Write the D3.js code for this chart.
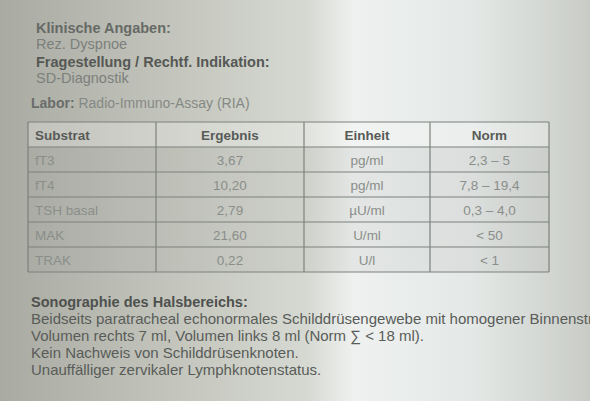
<!DOCTYPE html>
<html><head><meta charset="utf-8">
<script src="https://cdn.jsdelivr.net/npm/d3@7"></script>
<style>body{margin:0;background:#bbbcb4}</style>
</head><body><svg id="doc" width="590" height="401"></svg>
<script>
const headers = ["Substrat", "Ergebnis", "Einheit", "Norm"]
const substrates = ["fT3", "fT4", "TSH basal", "MAK", "TRAK"]
const results = ["3,67", "10,20", "2,79", "21,60", "0,22"]
const units = ["pg/ml", "pg/ml", "µU/ml", "U/ml", "U/l"]
const norms = ["2,3 – 5", "7,8 – 19,4", "0,3 – 4,0", "< 50", "< 1"]
const colEdges = [28, 156, 304, 430, 549]
const sonoLines = [
  "Beidseits paratracheal echonormales Schilddrüsengewebe mit homogener Binnenstruktur.",
  "Volumen rechts 7 ml, Volumen links 8 ml (Norm ∑ < 18 ml).",
  "Kein Nachweis von Schilddrüsenknoten.",
  "Unauffälliger zervikaler Lymphknotenstatus."
]

let svg = d3.select("#doc")
let grad = svg.append("defs").append("linearGradient").attr("id", "paper")
;[[0, "#a9aaa2"], [0.3, "#c4c6bd"], [0.52, "#d6d9d2"], [0.6, "#eef1ef"], [0.8, "#e4e8e6"], [1, "#c9ccc6"]]
  .forEach(s => grad.append("stop").attr("offset", s[0]).attr("stop-color", s[1]))
svg.append("rect").attr("width", 590).attr("height", 401).attr("fill", "url(#paper)")

function txt(x, y, s, bold, col, anchor, size) {
  svg.append("text").attr("x", x).attr("y", y).text(s)
    .attr("font-family", "Liberation Sans, Arial, sans-serif").attr("font-size", size || 13)
    .attr("font-weight", bold ? "bold" : "normal").attr("fill", col)
    .attr("text-anchor", anchor || "start")
}

txt(36, 33, "Klinische Angaben:", true, "#666a66", "start", 14.5)
txt(36, 49, "Rez. Dyspnoe", false, "#7c807c", "start", 14.5)
txt(36, 67, "Fragestellung / Rechtf. Indikation:", true, "#555855", "start", 14.5)
txt(36, 83, "SD-Diagnostik", false, "#7c807c", "start", 14.5)
svg.append("text").attr("x", 31).attr("y", 108)
  .attr("font-family", "Liberation Sans, Arial, sans-serif").attr("font-size", 14)
  .call(t => {
    t.append("tspan").attr("font-weight", "bold").attr("fill", "#6a6d6a").text("Labor: ")
    t.append("tspan").attr("fill", "#858985").text("Radio-Immuno-Assay (RIA)")
  })

// table
let y = d3.scaleBand().domain(d3.range(6)).range([122, 272])
let rows = [headers].concat(substrates.map((s, i) => [s, results[i], units[i], norms[i]]))
svg.selectAll("rect.row").data(rows).enter().append("rect")
  .attr("x", colEdges[0]).attr("y", (d, i) => y(i))
  .attr("width", colEdges[4] - colEdges[0]).attr("height", y.bandwidth())
  .attr("fill", (d, i) => i == 0 ? "#ffffff" : "#9aa09a").attr("opacity", (d, i) => i == 0 ? 0.25 : 0.12)
svg.selectAll("line.h").data(d3.range(7)).enter().append("line")
  .attr("x1", colEdges[0]).attr("x2", colEdges[4])
  .attr("y1", i => i < 6 ? y(i) : 272).attr("y2", i => i < 6 ? y(i) : 272)
  .attr("stroke", "#7d817d").attr("stroke-width", 1.2)
svg.selectAll("line.v").data(colEdges).enter().append("line")
  .attr("x1", d => d).attr("x2", d => d).attr("y1", 122).attr("y2", 272)
  .attr("stroke", "#7d817d").attr("stroke-width", 1.2)
rows.forEach((r, i) => {
  r.forEach((c, j) => {
    let mid = (colEdges[j] + colEdges[j + 1]) / 2
    txt(j == 0 ? colEdges[0] + 7 : mid, y(i) + y.bandwidth() / 2 + 5, c, i == 0,
      i == 0 ? "#585b58" : "#8a8e8a", j == 0 ? "start" : "middle", 13.5)
  })
})

txt(31, 307, "Sonographie des Halsbereichs:", true, "#4e514e", "start", 14.5)
sonoLines.forEach((s, i) => txt(31, 324 + i * 17, s, false, "#595c59", "start", 15))
</script></body></html>
